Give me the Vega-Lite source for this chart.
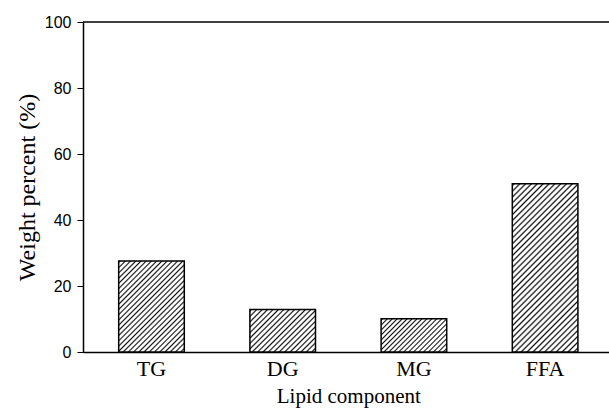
{
"$schema":"https://vega.github.io/schema/vega-lite/v6.json",
"width":526,"height":330,
"autosize":{"type":"none"},
"padding":{"left":83,"top":22,"right":0,"bottom":57},
"background":"white",
"config":{"view":{"stroke":null}},
"data":{"values":[{"component":"TG","weight":27.6},{"component":"DG","weight":12.9},{"component":"MG","weight":10.1},{"component":"FFA","weight":51.0}]},
"encoding":{
 "x":{"field":"component","type":"nominal","scale":{"domain":["TG","DG","MG","FFA"],"range":[0,530.6],"paddingInner":0.5,"paddingOuter":0.272},
  "axis":{"title":"Lipid component","labelAngle":0,"ticks":false,"domainColor":"black","domainWidth":1.5,"labelFont":"Liberation Serif","labelFontSize":22,"labelColor":"black","labelPadding":6,"titleFont":"Liberation Serif","titleFontSize":21,"titleFontWeight":"normal","titleColor":"black","titlePadding":6}},
 "y":{"field":"weight","type":"quantitative","scale":{"domain":[0,100],"nice":false},
  "axis":{"title":"Weight percent  (%)","values":[0,20,40,60,80,100],"grid":false,"domainColor":"black","domainWidth":1.5,"tickColor":"black","tickSize":6,"tickWidth":1,"labelFont":"Liberation Sans","labelFontSize":16,"labelColor":"black","labelPadding":6,"titleFont":"Liberation Serif","titleFontSize":24,"titleFontWeight":"normal","titleColor":"black","titlePadding":5}}
},
"layer":[
 {"transform":[{"filter":"datum.component==='TG'"}],
  "mark":{"type":"bar","stroke":"black","strokeWidth":1.5,"fill":{"gradient":"linear","x1":0,"y1":0,"x2":0.8157,"y2":1.1328,"stops":[
{"offset":0,"color":"#fff"},
{"offset":0.01,"color":"#111"},{"offset":0.02,"color":"#fff"},{"offset":0.0333,"color":"#fff"},
{"offset":0.0433,"color":"#111"},{"offset":0.0533,"color":"#fff"},{"offset":0.0667,"color":"#fff"},
{"offset":0.0767,"color":"#111"},{"offset":0.0867,"color":"#fff"},{"offset":0.1,"color":"#fff"},
{"offset":0.11,"color":"#111"},{"offset":0.12,"color":"#fff"},{"offset":0.1333,"color":"#fff"},
{"offset":0.1433,"color":"#111"},{"offset":0.1533,"color":"#fff"},{"offset":0.1667,"color":"#fff"},
{"offset":0.1767,"color":"#111"},{"offset":0.1867,"color":"#fff"},{"offset":0.2,"color":"#fff"},
{"offset":0.21,"color":"#111"},{"offset":0.22,"color":"#fff"},{"offset":0.2333,"color":"#fff"},
{"offset":0.2433,"color":"#111"},{"offset":0.2533,"color":"#fff"},{"offset":0.2667,"color":"#fff"},
{"offset":0.2767,"color":"#111"},{"offset":0.2867,"color":"#fff"},{"offset":0.3,"color":"#fff"},
{"offset":0.31,"color":"#111"},{"offset":0.32,"color":"#fff"},{"offset":0.3333,"color":"#fff"},
{"offset":0.3433,"color":"#111"},{"offset":0.3533,"color":"#fff"},{"offset":0.3667,"color":"#fff"},
{"offset":0.3767,"color":"#111"},{"offset":0.3867,"color":"#fff"},{"offset":0.4,"color":"#fff"},
{"offset":0.41,"color":"#111"},{"offset":0.42,"color":"#fff"},{"offset":0.4333,"color":"#fff"},
{"offset":0.4433,"color":"#111"},{"offset":0.4533,"color":"#fff"},{"offset":0.4667,"color":"#fff"},
{"offset":0.4767,"color":"#111"},{"offset":0.4867,"color":"#fff"},{"offset":0.5,"color":"#fff"},
{"offset":0.51,"color":"#111"},{"offset":0.52,"color":"#fff"},{"offset":0.5333,"color":"#fff"},
{"offset":0.5433,"color":"#111"},{"offset":0.5533,"color":"#fff"},{"offset":0.5667,"color":"#fff"},
{"offset":0.5767,"color":"#111"},{"offset":0.5867,"color":"#fff"},{"offset":0.6,"color":"#fff"},
{"offset":0.61,"color":"#111"},{"offset":0.62,"color":"#fff"},{"offset":0.6333,"color":"#fff"},
{"offset":0.6433,"color":"#111"},{"offset":0.6533,"color":"#fff"},{"offset":0.6667,"color":"#fff"},
{"offset":0.6767,"color":"#111"},{"offset":0.6867,"color":"#fff"},{"offset":0.7,"color":"#fff"},
{"offset":0.71,"color":"#111"},{"offset":0.72,"color":"#fff"},{"offset":0.7333,"color":"#fff"},
{"offset":0.7433,"color":"#111"},{"offset":0.7533,"color":"#fff"},{"offset":0.7667,"color":"#fff"},
{"offset":0.7767,"color":"#111"},{"offset":0.7867,"color":"#fff"},{"offset":0.8,"color":"#fff"},
{"offset":0.81,"color":"#111"},{"offset":0.82,"color":"#fff"},{"offset":0.8333,"color":"#fff"},
{"offset":0.8433,"color":"#111"},{"offset":0.8533,"color":"#fff"},{"offset":0.8667,"color":"#fff"},
{"offset":0.8767,"color":"#111"},{"offset":0.8867,"color":"#fff"},{"offset":0.9,"color":"#fff"},
{"offset":0.91,"color":"#111"},{"offset":0.92,"color":"#fff"},{"offset":0.9333,"color":"#fff"},
{"offset":0.9433,"color":"#111"},{"offset":0.9533,"color":"#fff"},{"offset":0.9667,"color":"#fff"},
{"offset":0.9767,"color":"#111"},{"offset":0.9867,"color":"#fff"},{"offset":1,"color":"#fff"}]}}},
 {"transform":[{"filter":"datum.component==='DG'"}],
  "mark":{"type":"bar","stroke":"black","strokeWidth":1.5,"fill":{"gradient":"linear","x1":0,"y1":0,"x2":1.1602,"y2":0.7534,"stops":[
{"offset":0,"color":"#fff"},
{"offset":0.015,"color":"#111"},{"offset":0.03,"color":"#fff"},{"offset":0.05,"color":"#fff"},
{"offset":0.065,"color":"#111"},{"offset":0.08,"color":"#fff"},{"offset":0.1,"color":"#fff"},
{"offset":0.115,"color":"#111"},{"offset":0.13,"color":"#fff"},{"offset":0.15,"color":"#fff"},
{"offset":0.165,"color":"#111"},{"offset":0.18,"color":"#fff"},{"offset":0.2,"color":"#fff"},
{"offset":0.215,"color":"#111"},{"offset":0.23,"color":"#fff"},{"offset":0.25,"color":"#fff"},
{"offset":0.265,"color":"#111"},{"offset":0.28,"color":"#fff"},{"offset":0.3,"color":"#fff"},
{"offset":0.315,"color":"#111"},{"offset":0.33,"color":"#fff"},{"offset":0.35,"color":"#fff"},
{"offset":0.365,"color":"#111"},{"offset":0.38,"color":"#fff"},{"offset":0.4,"color":"#fff"},
{"offset":0.415,"color":"#111"},{"offset":0.43,"color":"#fff"},{"offset":0.45,"color":"#fff"},
{"offset":0.465,"color":"#111"},{"offset":0.48,"color":"#fff"},{"offset":0.5,"color":"#fff"},
{"offset":0.515,"color":"#111"},{"offset":0.53,"color":"#fff"},{"offset":0.55,"color":"#fff"},
{"offset":0.565,"color":"#111"},{"offset":0.58,"color":"#fff"},{"offset":0.6,"color":"#fff"},
{"offset":0.615,"color":"#111"},{"offset":0.63,"color":"#fff"},{"offset":0.65,"color":"#fff"},
{"offset":0.665,"color":"#111"},{"offset":0.68,"color":"#fff"},{"offset":0.7,"color":"#fff"},
{"offset":0.715,"color":"#111"},{"offset":0.73,"color":"#fff"},{"offset":0.75,"color":"#fff"},
{"offset":0.765,"color":"#111"},{"offset":0.78,"color":"#fff"},{"offset":0.8,"color":"#fff"},
{"offset":0.815,"color":"#111"},{"offset":0.83,"color":"#fff"},{"offset":0.85,"color":"#fff"},
{"offset":0.865,"color":"#111"},{"offset":0.88,"color":"#fff"},{"offset":0.9,"color":"#fff"},
{"offset":0.915,"color":"#111"},{"offset":0.93,"color":"#fff"},{"offset":0.95,"color":"#fff"},
{"offset":0.965,"color":"#111"},{"offset":0.98,"color":"#fff"},{"offset":1,"color":"#fff"}]}}},
 {"transform":[{"filter":"datum.component==='MG'"}],
  "mark":{"type":"bar","stroke":"black","strokeWidth":1.5,"fill":{"gradient":"linear","x1":0,"y1":0,"x2":1.1988,"y2":0.6085,"stops":[
{"offset":0,"color":"#fff"},
{"offset":0.015,"color":"#111"},{"offset":0.03,"color":"#fff"},{"offset":0.05,"color":"#fff"},
{"offset":0.065,"color":"#111"},{"offset":0.08,"color":"#fff"},{"offset":0.1,"color":"#fff"},
{"offset":0.115,"color":"#111"},{"offset":0.13,"color":"#fff"},{"offset":0.15,"color":"#fff"},
{"offset":0.165,"color":"#111"},{"offset":0.18,"color":"#fff"},{"offset":0.2,"color":"#fff"},
{"offset":0.215,"color":"#111"},{"offset":0.23,"color":"#fff"},{"offset":0.25,"color":"#fff"},
{"offset":0.265,"color":"#111"},{"offset":0.28,"color":"#fff"},{"offset":0.3,"color":"#fff"},
{"offset":0.315,"color":"#111"},{"offset":0.33,"color":"#fff"},{"offset":0.35,"color":"#fff"},
{"offset":0.365,"color":"#111"},{"offset":0.38,"color":"#fff"},{"offset":0.4,"color":"#fff"},
{"offset":0.415,"color":"#111"},{"offset":0.43,"color":"#fff"},{"offset":0.45,"color":"#fff"},
{"offset":0.465,"color":"#111"},{"offset":0.48,"color":"#fff"},{"offset":0.5,"color":"#fff"},
{"offset":0.515,"color":"#111"},{"offset":0.53,"color":"#fff"},{"offset":0.55,"color":"#fff"},
{"offset":0.565,"color":"#111"},{"offset":0.58,"color":"#fff"},{"offset":0.6,"color":"#fff"},
{"offset":0.615,"color":"#111"},{"offset":0.63,"color":"#fff"},{"offset":0.65,"color":"#fff"},
{"offset":0.665,"color":"#111"},{"offset":0.68,"color":"#fff"},{"offset":0.7,"color":"#fff"},
{"offset":0.715,"color":"#111"},{"offset":0.73,"color":"#fff"},{"offset":0.75,"color":"#fff"},
{"offset":0.765,"color":"#111"},{"offset":0.78,"color":"#fff"},{"offset":0.8,"color":"#fff"},
{"offset":0.815,"color":"#111"},{"offset":0.83,"color":"#fff"},{"offset":0.85,"color":"#fff"},
{"offset":0.865,"color":"#111"},{"offset":0.88,"color":"#fff"},{"offset":0.9,"color":"#fff"},
{"offset":0.915,"color":"#111"},{"offset":0.93,"color":"#fff"},{"offset":0.95,"color":"#fff"},
{"offset":0.965,"color":"#111"},{"offset":0.98,"color":"#fff"},{"offset":1,"color":"#fff"}]}}},
 {"transform":[{"filter":"datum.component==='FFA'"}],
  "mark":{"type":"bar","stroke":"black","strokeWidth":1.5,"fill":{"gradient":"linear","x1":0,"y1":0,"x2":0.4703,"y2":1.2065,"stops":[
{"offset":0,"color":"#fff"},
{"offset":0.0075,"color":"#111"},{"offset":0.015,"color":"#fff"},{"offset":0.025,"color":"#fff"},
{"offset":0.0325,"color":"#111"},{"offset":0.04,"color":"#fff"},{"offset":0.05,"color":"#fff"},
{"offset":0.0575,"color":"#111"},{"offset":0.065,"color":"#fff"},{"offset":0.075,"color":"#fff"},
{"offset":0.0825,"color":"#111"},{"offset":0.09,"color":"#fff"},{"offset":0.1,"color":"#fff"},
{"offset":0.1075,"color":"#111"},{"offset":0.115,"color":"#fff"},{"offset":0.125,"color":"#fff"},
{"offset":0.1325,"color":"#111"},{"offset":0.14,"color":"#fff"},{"offset":0.15,"color":"#fff"},
{"offset":0.1575,"color":"#111"},{"offset":0.165,"color":"#fff"},{"offset":0.175,"color":"#fff"},
{"offset":0.1825,"color":"#111"},{"offset":0.19,"color":"#fff"},{"offset":0.2,"color":"#fff"},
{"offset":0.2075,"color":"#111"},{"offset":0.215,"color":"#fff"},{"offset":0.225,"color":"#fff"},
{"offset":0.2325,"color":"#111"},{"offset":0.24,"color":"#fff"},{"offset":0.25,"color":"#fff"},
{"offset":0.2575,"color":"#111"},{"offset":0.265,"color":"#fff"},{"offset":0.275,"color":"#fff"},
{"offset":0.2825,"color":"#111"},{"offset":0.29,"color":"#fff"},{"offset":0.3,"color":"#fff"},
{"offset":0.3075,"color":"#111"},{"offset":0.315,"color":"#fff"},{"offset":0.325,"color":"#fff"},
{"offset":0.3325,"color":"#111"},{"offset":0.34,"color":"#fff"},{"offset":0.35,"color":"#fff"},
{"offset":0.3575,"color":"#111"},{"offset":0.365,"color":"#fff"},{"offset":0.375,"color":"#fff"},
{"offset":0.3825,"color":"#111"},{"offset":0.39,"color":"#fff"},{"offset":0.4,"color":"#fff"},
{"offset":0.4075,"color":"#111"},{"offset":0.415,"color":"#fff"},{"offset":0.425,"color":"#fff"},
{"offset":0.4325,"color":"#111"},{"offset":0.44,"color":"#fff"},{"offset":0.45,"color":"#fff"},
{"offset":0.4575,"color":"#111"},{"offset":0.465,"color":"#fff"},{"offset":0.475,"color":"#fff"},
{"offset":0.4825,"color":"#111"},{"offset":0.49,"color":"#fff"},{"offset":0.5,"color":"#fff"},
{"offset":0.5075,"color":"#111"},{"offset":0.515,"color":"#fff"},{"offset":0.525,"color":"#fff"},
{"offset":0.5325,"color":"#111"},{"offset":0.54,"color":"#fff"},{"offset":0.55,"color":"#fff"},
{"offset":0.5575,"color":"#111"},{"offset":0.565,"color":"#fff"},{"offset":0.575,"color":"#fff"},
{"offset":0.5825,"color":"#111"},{"offset":0.59,"color":"#fff"},{"offset":0.6,"color":"#fff"},
{"offset":0.6075,"color":"#111"},{"offset":0.615,"color":"#fff"},{"offset":0.625,"color":"#fff"},
{"offset":0.6325,"color":"#111"},{"offset":0.64,"color":"#fff"},{"offset":0.65,"color":"#fff"},
{"offset":0.6575,"color":"#111"},{"offset":0.665,"color":"#fff"},{"offset":0.675,"color":"#fff"},
{"offset":0.6825,"color":"#111"},{"offset":0.69,"color":"#fff"},{"offset":0.7,"color":"#fff"},
{"offset":0.7075,"color":"#111"},{"offset":0.715,"color":"#fff"},{"offset":0.725,"color":"#fff"},
{"offset":0.7325,"color":"#111"},{"offset":0.74,"color":"#fff"},{"offset":0.75,"color":"#fff"},
{"offset":0.7575,"color":"#111"},{"offset":0.765,"color":"#fff"},{"offset":0.775,"color":"#fff"},
{"offset":0.7825,"color":"#111"},{"offset":0.79,"color":"#fff"},{"offset":0.8,"color":"#fff"},
{"offset":0.8075,"color":"#111"},{"offset":0.815,"color":"#fff"},{"offset":0.825,"color":"#fff"},
{"offset":0.8325,"color":"#111"},{"offset":0.84,"color":"#fff"},{"offset":0.85,"color":"#fff"},
{"offset":0.8575,"color":"#111"},{"offset":0.865,"color":"#fff"},{"offset":0.875,"color":"#fff"},
{"offset":0.8825,"color":"#111"},{"offset":0.89,"color":"#fff"},{"offset":0.9,"color":"#fff"},
{"offset":0.9075,"color":"#111"},{"offset":0.915,"color":"#fff"},{"offset":0.925,"color":"#fff"},
{"offset":0.9325,"color":"#111"},{"offset":0.94,"color":"#fff"},{"offset":0.95,"color":"#fff"},
{"offset":0.9575,"color":"#111"},{"offset":0.965,"color":"#fff"},{"offset":0.975,"color":"#fff"},
{"offset":0.9825,"color":"#111"},{"offset":0.99,"color":"#fff"},{"offset":1,"color":"#fff"}]}}},
 {"data":{"values":[{"top":100}]},
  "mark":{"type":"rule","color":"black","strokeWidth":1.5},
  "encoding":{"x":null,"y":{"field":"top","type":"quantitative"}}}
]
}
